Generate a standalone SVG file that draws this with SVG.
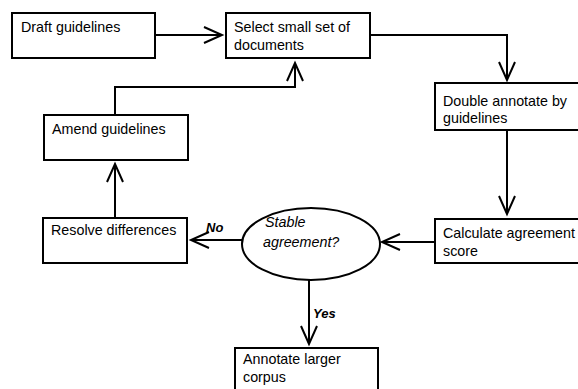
<svg xmlns="http://www.w3.org/2000/svg" width="578" height="389" viewBox="0 0 578 389">
<defs>
<marker id="arr" markerUnits="userSpaceOnUse" markerWidth="24" markerHeight="24" viewBox="-20 -10 24 20" refX="0" refY="0" orient="auto">
<path d="M-18,-8 L0,0 L-18,8" fill="none" stroke="#000" stroke-width="2"/>
</marker>
<style>
.box{fill:#fff;stroke:#000;stroke-width:2}
.t{font-family:"Liberation Sans",Arial,sans-serif;font-size:14.3px;fill:#000}
.i{font-style:italic}
.lbl{font-family:"Liberation Sans",Arial,sans-serif;font-size:13px;font-weight:bold;font-style:italic;fill:#000}
.c{fill:none;stroke:#000;stroke-width:2;marker-end:url(#arr)}
</style>
</defs>
<rect width="578" height="389" fill="#fff"/>
<g id="connectors">
<path class="c" d="M155,35 H222"/>
<path class="c" d="M370,35 H507 V80"/>
<path class="c" d="M507,130 V214"/>
<path class="c" d="M435,242 H382"/>
<path class="c" d="M243,240 H191"/>
<path class="c" d="M115,218 V164"/>
<path class="c" d="M115,115 V87 H295 V63"/>
<path class="c" d="M309,280 V344"/>
<text class="lbl" x="206" y="232">No</text>
<text class="lbl" x="313" y="318">Yes</text>
</g>
<g id="draft">
<rect class="box" x="12" y="13" width="143" height="45"/>
<text class="t" x="21" y="32">Draft guidelines</text>
</g>
<g id="select">
<rect class="box" x="226" y="13" width="144" height="45"/>
<text class="t" x="234" y="32">Select small set of</text>
<text class="t" x="234" y="50">documents</text>
</g>
<g id="double">
<rect class="box" x="435" y="83" width="150" height="47"/>
<text class="t" x="443" y="106">Double annotate by</text>
<text class="t" x="443" y="123">guidelines</text>
</g>
<g id="calculate">
<rect class="box" x="435" y="219" width="150" height="44"/>
<text class="t" x="443" y="238">Calculate agreement</text>
<text class="t" x="443" y="256">score</text>
</g>
<g id="stable">
<ellipse class="box" cx="311" cy="244" rx="69" ry="36"/>
<text class="t i" x="265" y="227">Stable</text>
<text class="t i" x="263" y="247">agreement?</text>
</g>
<g id="resolve">
<rect class="box" x="43" y="218" width="144" height="45"/>
<text class="t" x="51" y="235">Resolve differences</text>
</g>
<g id="amend">
<rect class="box" x="44" y="115" width="144" height="45"/>
<text class="t" x="52" y="134">Amend guidelines</text>
</g>
<g id="annotate">
<rect class="box" x="235" y="348" width="143" height="50"/>
<text class="t" x="243" y="364">Annotate larger</text>
<text class="t" x="243" y="382">corpus</text>
</g>
</svg>
